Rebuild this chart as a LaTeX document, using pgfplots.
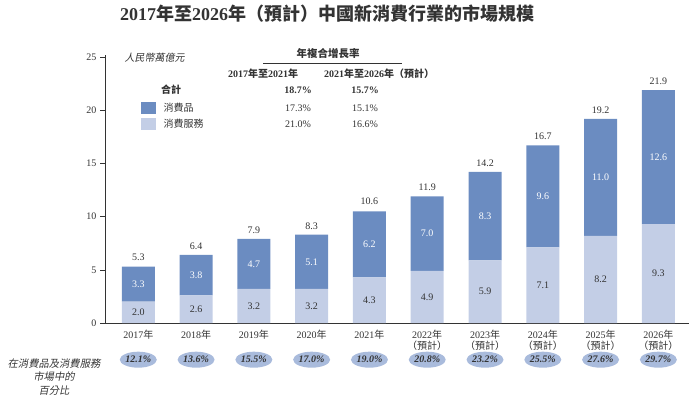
\documentclass[border=0pt]{standalone}
\usepackage{fontspec}
\setmainfont{Liberation Serif}
\newfontfamily\cjk{Noto Sans CJK TC}
\newfontfamily\cjki[FakeSlant=0.2]{Noto Sans CJK TC}
\usepackage{pgfplots}
\pgfplotsset{compat=1.18}
\usetikzlibrary{shapes.geometric}
\definecolor{goods}{HTML}{6B8CC1}
\definecolor{svc}{HTML}{C3CEE6}
\definecolor{ellc}{HTML}{A9BBDC}
\definecolor{txt}{HTML}{333333}
\newcommand{\zh}[1]{{\cjk #1}}
\begin{document}
\begin{tikzpicture}[x=1pt,y=1pt]
\path[use as bounding box] (0,0) rectangle (692,399);
\pgfplotsset{
  common/.style={
    at={(105pt,76pt)}, anchor=south west,
    width=584pt, height=268pt, scale only axis,
    xmin=-0.576, xmax=9.53, ymin=0, ymax=25.2,
    clip=false,
  }
}
\begin{axis}[common,
  ybar stacked, bar width=33pt,
  axis x line*=bottom, axis y line*=left,
  axis line style={txt, line width=0.6pt, -},
  ytick={0,5,10,15,20,25},
  xtick={0,...,9},
  xticklabels={2017\zh{年},2018\zh{年},2019\zh{年},2020\zh{年},2021\zh{年},
    {2022\zh{年}\\\zh{（預計）}},{2023\zh{年}\\\zh{（預計）}},
    {2024\zh{年}\\\zh{（預計）}},{2025\zh{年}\\\zh{（預計）}},
    {2026\zh{年}\\\zh{（預計）}}},
  x tick style={draw=none},
  y tick style={txt, line width=0.6pt},
  tick align=outside, major tick length=5pt,
  tick label style={font=\fontsize{10}{10.5}\selectfont, text=txt},
  xticklabel style={align=center, yshift=-1pt, inner sep=1pt},
  /pgf/number format/assume math mode=true,
]
\addplot[fill=svc, draw=none] coordinates {(0,2.0) (1,2.6) (2,3.2) (3,3.2) (4,4.3) (5,4.9) (6,5.9) (7,7.1) (8,8.2) (9,9.3)};
\addplot[fill=goods, draw=none] coordinates {(0,3.3) (1,3.8) (2,4.7) (3,5.1) (4,6.2) (5,7.0) (6,8.3) (7,9.6) (8,11.0) (9,12.6)};
\end{axis}
\begin{axis}[common, hide axis,
  nodes near coords, point meta=explicit symbolic,
  every node near coord/.append style={font=\fontsize{10}{11}\selectfont},
]
% service labels (centred in segment)
\addplot[draw=none, mark=none, nodes near coords style={anchor=center, text=txt}] coordinates {
 (0,1.0)[2.0] (1,1.3)[2.6] (2,1.6)[3.2] (3,1.6)[3.2] (4,2.15)[4.3] (5,2.45)[4.9] (6,2.95)[5.9] (7,3.55)[7.1] (8,4.1)[8.2] (9,4.65)[9.3]};
% goods labels
\addplot[draw=none, mark=none, nodes near coords style={anchor=center, text=white}] coordinates {
 (0,3.65)[3.3] (1,4.5)[3.8] (2,5.55)[4.7] (3,5.75)[5.1] (4,7.4)[6.2] (5,8.4)[7.0] (6,10.05)[8.3] (7,11.9)[9.6] (8,13.7)[11.0] (9,15.6)[12.6]};
% totals
\addplot[draw=none, mark=none, nodes near coords style={anchor=south, yshift=2pt, text=txt}] coordinates {
 (0,5.3)[5.3] (1,6.4)[6.4] (2,7.9)[7.9] (3,8.3)[8.3] (4,10.6)[10.6] (5,11.9)[11.9] (6,14.2)[14.2] (7,16.7)[16.7] (8,19.2)[19.2] (9,21.9)[21.9]};
% share of market
\addplot[draw=none, mark=none, nodes near coords style={anchor=center, ellipse, fill=ellc, inner sep=0pt, minimum width=37pt, minimum height=16pt, text=txt, font=\fontsize{10}{11}\selectfont\bfseries\itshape}] coordinates {
 (0,-3.45)[12.1\%] (1,-3.45)[13.6\%] (2,-3.45)[15.5\%] (3,-3.45)[17.0\%] (4,-3.45)[19.0\%] (5,-3.45)[20.8\%] (6,-3.45)[23.2\%] (7,-3.45)[25.5\%] (8,-3.45)[27.6\%] (9,-3.45)[29.7\%]};
\end{axis}
% title
\node[text=txt, font=\fontsize{18}{20}\selectfont\bfseries] at (327,385) {2017\zh{年至}2026\zh{年（預計）中國新消費行業的市場規模}};
% unit
\node[anchor=west, text=txt, font=\cjki\fontsize{10}{12}\selectfont] at (121,341) {人民幣萬億元};
% CAGR table
\node[text=txt, font=\cjk\fontsize{10.5}{12}\selectfont\bfseries] at (328,345) {年複合增長率};
\draw[txt, line width=0.6pt] (263,336) -- (402,336);
\node[text=txt, font=\fontsize{10}{12}\selectfont\bfseries] at (263,325) {2017\zh{年至}2021\zh{年}};
\node[text=txt, font=\fontsize{10}{12}\selectfont\bfseries] at (379,325) {2021\zh{年至}2026\zh{年（預計）}};
\node[text=txt, font=\cjk\fontsize{10}{12}\selectfont\bfseries] at (171,309) {合計};
\node[text=txt, font=\fontsize{10}{12}\selectfont\bfseries] at (298,309) {18.7\%};
\node[text=txt, font=\fontsize{10}{12}\selectfont\bfseries] at (365,309) {15.7\%};
\fill[goods] (141,285) rectangle (156,297);
\node[anchor=west, text=txt, font=\cjk\fontsize{10}{12}\selectfont] at (160,291) {消費品};
\node[text=txt, font=\fontsize{10}{12}\selectfont] at (298,291) {17.3\%};
\node[text=txt, font=\fontsize{10}{12}\selectfont] at (365,291) {15.1\%};
\fill[svc] (141,269) rectangle (156,281);
\node[anchor=west, text=txt, font=\cjk\fontsize{10}{12}\selectfont] at (160,275) {消費服務};
\node[text=txt, font=\fontsize{10}{12}\selectfont] at (298,275) {21.0\%};
\node[text=txt, font=\fontsize{10}{12}\selectfont] at (365,275) {16.6\%};
% left label
\node[align=center, text=txt, font=\cjki\fontsize{10.3}{13.5}\selectfont] at (54,22) {在消費品及消費服務\\市場中的\\百分比};
\end{tikzpicture}
\end{document}
